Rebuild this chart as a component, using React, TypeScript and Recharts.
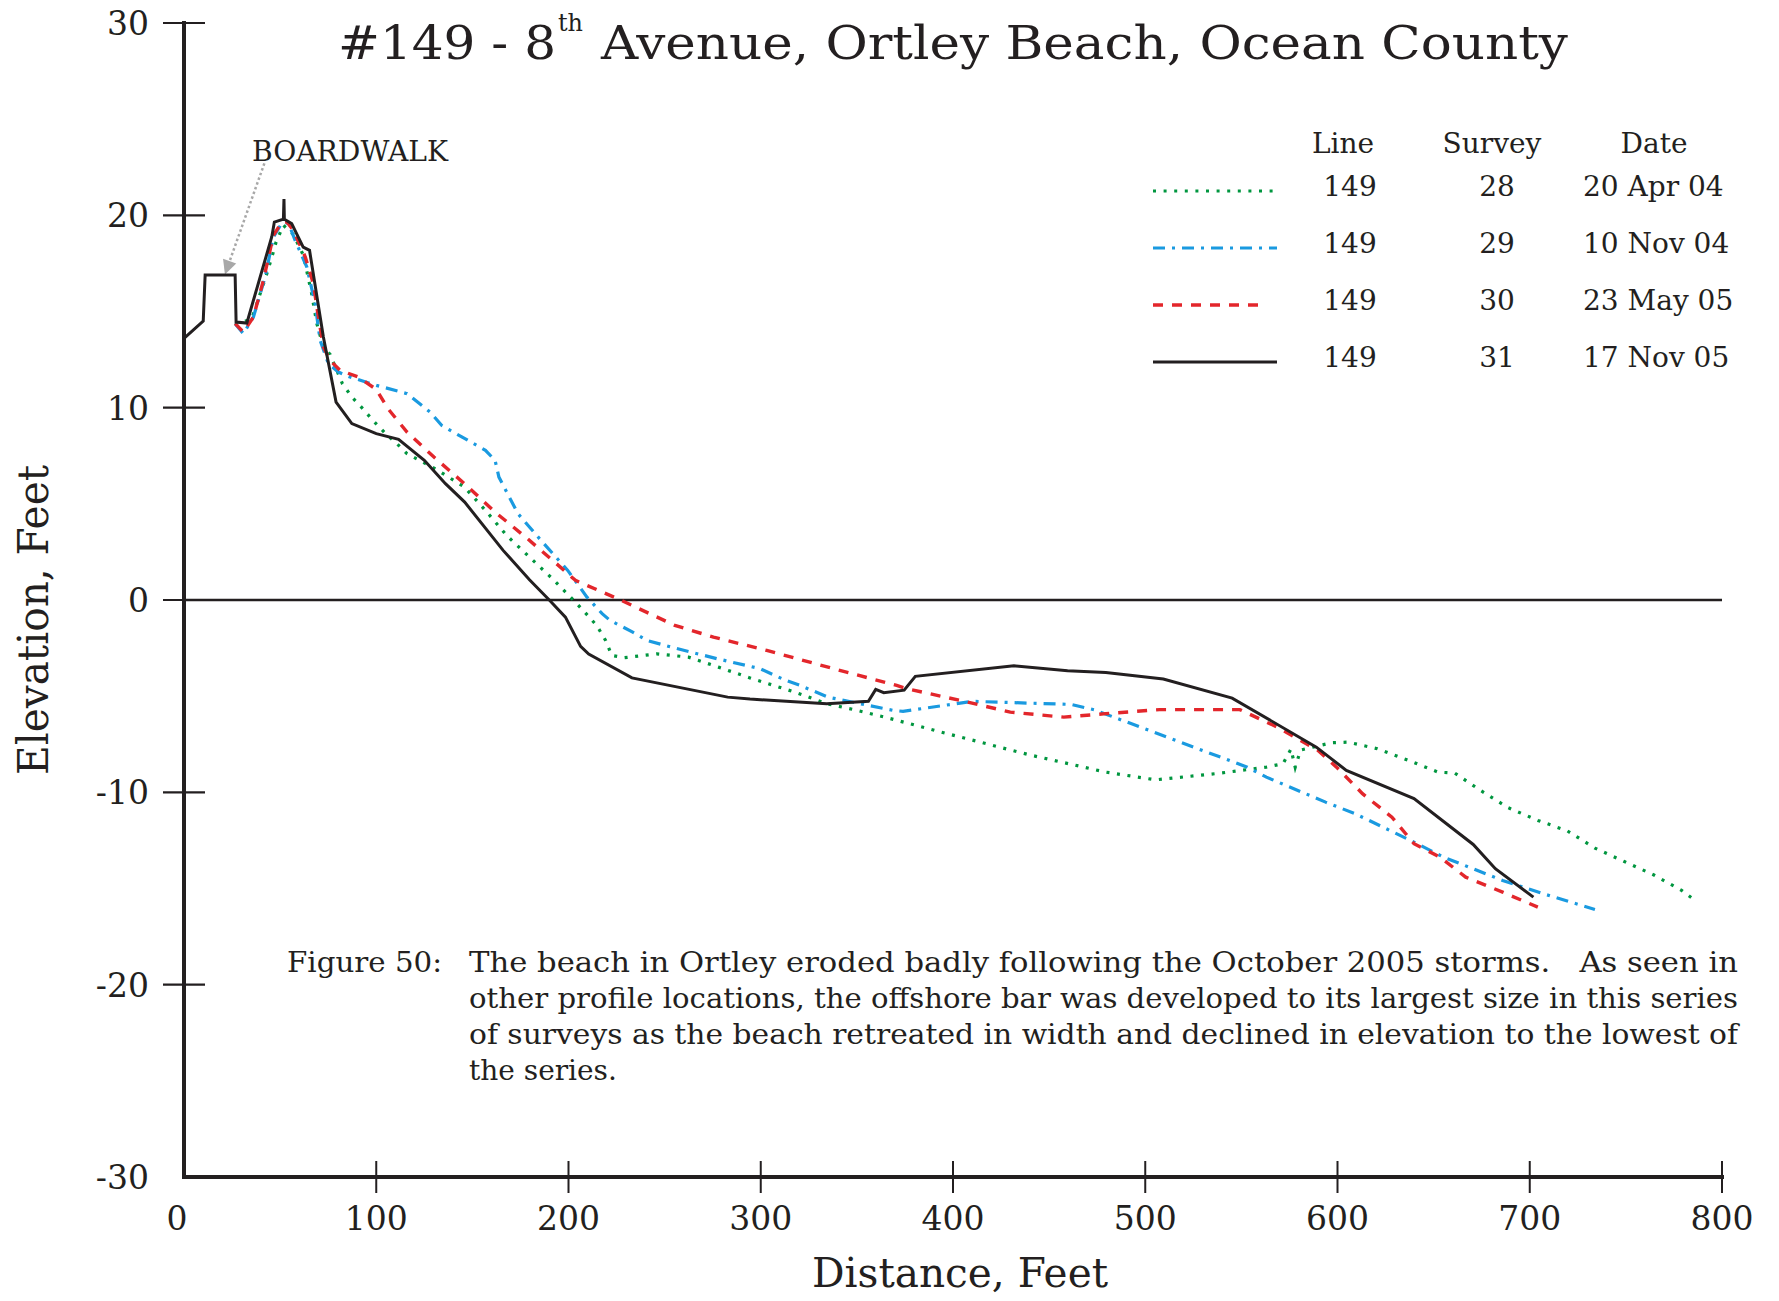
import React from 'react';
import { LineChart, Line, XAxis, YAxis, ReferenceLine } from 'recharts';

const INK = '#231f20';
const SERIF = '"DejaVu Serif", serif';

// axis ticks
const distanceTicks = [0, 100, 200, 300, 400, 500, 600, 700, 800];
const elevationTicks = [-30, -20, -10, 0, 10, 20, 30];

// Survey 28 - 20 Apr 04
const dist28 = [26.6, 35.3, 40.5, 43.1, 45.7, 47.9, 51.7, 56.9, 62.1, 66.4, 69.1, 72.5, 76, 82.4, 87.3, 93, 98.5, 104.4, 110.7, 116, 131.4, 145.9, 156.8, 167.8, 179.7, 191.6, 203.6, 209.5, 214.8, 219.3, 222.5, 229, 245.9, 262.4, 278, 294.4, 318, 334.3, 350.2, 366.4, 394, 439.7, 479.5, 505.4, 539.2, 563, 571.7, 575.8, 578, 580.8, 597, 605.3, 620.7, 637, 652.3, 661, 674.4, 688.8, 704.2, 719.5, 733.9, 749.2, 764.6, 779, 785.7];
const elev28 = [14.3, 14.63, 16.19, 16.97, 17.83, 18.61, 19.48, 19.0, 17.92, 15.93, 14.37, 13.15, 12.77, 11.25, 10.55, 9.95, 9.31, 8.7, 8.13, 7.61, 6.78, 5.87, 4.66, 3.36, 2.23, 1.11, -0.11, -0.75, -1.34, -2.1, -2.88, -3.0, -2.8, -2.97, -3.49, -4.05, -4.8, -5.39, -5.74, -6.14, -6.87, -8.05, -8.95, -9.35, -9.0, -8.69, -8.51, -7.75, -8.7, -7.8, -7.42, -7.39, -7.73, -8.34, -8.95, -9.0, -9.9, -10.8, -11.46, -12.0, -12.9, -13.6, -14.3, -15.1, -15.6];

// Survey 29 - 10 Nov 04
const dist29 = [26.6, 30.9, 36.1, 42.2, 46.5, 50.9, 54.3, 57.8, 63.9, 68.2, 70.8, 75.1, 80.3, 86.4, 100.1, 116, 128, 134, 156.8, 161.8, 163.8, 173.7, 185.7, 199.6, 209.6, 217.5, 221.6, 233.4, 240.7, 253.4, 277.2, 299.6, 313, 320.4, 335, 368.9, 374, 410, 461.6, 473.5, 513.4, 553.1, 563, 593.8, 609.1, 639.8, 655.2, 685.9, 707, 733.9];
const elev29 = [14.37, 13.85, 14.71, 16.79, 18.87, 19.6, 19.6, 18.7, 17.31, 15.41, 13.5, 12.29, 11.85, 11.59, 11.16, 10.73, 9.77, 9.08, 7.78, 7.26, 6.39, 4.49, 3.1, 1.54, 0.15, -0.71, -1.06, -1.67, -2.1, -2.45, -3.05, -3.57, -4.18, -4.44, -5.05, -5.74, -5.79, -5.27, -5.43, -5.71, -7.21, -8.69, -9.21, -10.51, -11.11, -12.59, -13.37, -14.58, -15.27, -16.09];

// Survey 30 - 23 May 05
const dist30 = [26.6, 30.9, 36.1, 41.3, 46.5, 50.9, 53.5, 56.9, 63.1, 67.3, 69.1, 72.5, 76, 81.2, 90.7, 100, 106.1, 116, 130, 145.9, 161.8, 177.7, 193.7, 203.6, 225.5, 255.3, 275.4, 303.1, 337.8, 370.7, 376, 405.9, 429.8, 457.6, 479.5, 507.4, 549.2, 568.7, 589.9, 599.5, 613, 628.3, 639.8, 653.3, 666.7, 685.9, 704.2];
const elev30 = [14.37, 13.93, 14.71, 16.62, 18.96, 19.65, 19.65, 19.22, 17.83, 16.45, 15.23, 13.15, 12.46, 11.94, 11.59, 10.95, 9.95, 8.73, 7.43, 6.05, 4.57, 3.27, 1.89, 1.02, 0.07, -1.32, -1.93, -2.62, -3.57, -4.44, -4.61, -5.27, -5.83, -6.09, -5.91, -5.7, -5.7, -6.61, -7.82, -8.69, -10.07, -11.29, -12.67, -13.37, -14.41, -15.19, -15.97];

// Survey 31 - 17 Nov 05
const dist31 = [0, 10, 11, 26.6, 27.1, 32.7, 45.7, 47, 51.7, 52, 52.2, 56, 62, 65.3, 72.5, 79.1, 87.3, 100, 111.6, 125, 136, 146, 166, 179.7, 190, 198.4, 206.3, 210.5, 233, 282.8, 294.4, 334.3, 356, 359.8, 364, 374.6, 380.4, 431.7, 459.6, 479.5, 509.4, 545.2, 589, 604.6, 639.8, 670.6, 682.1, 701.9];
const elev31 = [13.6, 14.5, 16.9, 16.9, 14.45, 14.4, 18.9, 19.65, 19.8, 20.85, 19.8, 19.57, 18.35, 18.18, 13.67, 10.29, 9.17, 8.65, 8.35, 7.26, 6.05, 5.09, 2.58, 1.05, 0.0, -0.89, -2.41, -2.81, -4.05, -5.05, -5.15, -5.39, -5.27, -4.65, -4.82, -4.69, -3.97, -3.42, -3.68, -3.77, -4.11, -5.1, -7.65, -8.86, -10.33, -12.71, -13.97, -15.45];

// legend table
const lineNames = ['149', '149', '149', '149'];
const surveyNums = ['28', '29', '30', '31'];
const surveyDates = ['20 Apr 04', '10 Nov 04', '23 May 05', '17 Nov 05'];

const captionLines = [
  'The beach in Ortley eroded badly following the October 2005 storms.   As seen in',
  'other profile locations, the offshore bar was developed to its largest size in this series',
  'of surveys as the beach retreated in width and declined in elevation to the lowest of',
  'the series.',
];

// boardwalk arrow, in data units
const arrowFrom = { x: 41.8, y: 22.7 };
const arrowTo = { x: 21.3, y: 16.93 };

const zip = (d: number[], e: number[]) => d.map((x, i) => ({ x, y: e[i] }));

const series = [
  { key: 's28', data: zip(dist28, elev28), color: '#00963f', dash: '3 7.6', width: 3.2 },
  { key: 's29', data: zip(dist29, elev29), color: '#1a9ae0', dash: '12 7 3 7', width: 3.2 },
  { key: 's30', data: zip(dist30, elev30), color: '#e3262b', dash: '10 9', width: 3.4 },
  { key: 's31', data: zip(dist31, elev31), color: INK, dash: undefined, width: 3 },
];

const YTick = (props: any) => {
  const { x, y, payload } = props;
  return (
    <g>
      {payload.value !== -30 && (
        <line x1={x - 21} x2={x + 21} y1={y} y2={y} stroke={INK} strokeWidth={2.2} />
      )}
      <text x={x - 35} y={y} dy="0.36em" textAnchor="end" fontFamily={SERIF} fontSize={33} fill={INK}>
        {payload.value}
      </text>
    </g>
  );
};

const XTick = (props: any) => {
  const { x, y, payload } = props;
  return (
    <g>
      {payload.value !== 0 && (
        <line x1={x} x2={x} y1={y - 16} y2={y + 16} stroke={INK} strokeWidth={2} />
      )}
      <text x={payload.value === 0 ? x - 7 : x} y={y + 53} textAnchor="middle" fontFamily={SERIF} fontSize={33} fill={INK}>
        {payload.value}
      </text>
    </g>
  );
};

const ArrowShape = (p: any) => {
  const { x1, y1, x2, y2 } = p;
  const dx = x2 - x1;
  const dy = y2 - y1;
  const len = Math.hypot(dx, dy) || 1;
  const ux = dx / len;
  const uy = dy / len;
  const bx = x2 - ux * 14;
  const by = y2 - uy * 14;
  return (
    <g>
      <line x1={x1} y1={y1} x2={bx} y2={by} stroke="#a8a8a8" strokeWidth={2.5} strokeDasharray="2.5 2.5" />
      <polygon
        points={`${x2},${y2} ${bx - uy * 7},${by + ux * 7} ${bx + uy * 7},${by - ux * 7}`}
        fill="#a8a8a8"
      />
    </g>
  );
};

const legendRows = [196, 253, 310, 367];

export default function App() {
  return (
    <div style={{ position: 'absolute', left: 0, top: 0, width: 1779, height: 1301, background: '#fff' }}>
      <LineChart width={1779} height={1301} margin={{ top: 23, right: 57, bottom: 64, left: 84 }}>
        <XAxis
          type="number"
          dataKey="x"
          domain={[0, 800]}
          ticks={distanceTicks}
          interval={0}
          height={60}
          tickSize={0}
          tickMargin={0}
          tickLine={false}
          axisLine={{ stroke: INK, strokeWidth: 4, strokeLinecap: 'square' }}
          tick={XTick}
        />
        <YAxis
          type="number"
          domain={[-30, 30]}
          ticks={elevationTicks}
          interval={0}
          width={100}
          tickSize={0}
          tickMargin={0}
          tickLine={false}
          axisLine={{ stroke: INK, strokeWidth: 4, strokeLinecap: 'square' }}
          tick={YTick}
        />
        <ReferenceLine y={0} stroke={INK} strokeWidth={2.5} />
        <ReferenceLine segment={[arrowFrom, arrowTo]} shape={ArrowShape} ifOverflow="visible" />
        {series.map((s) => (
          <Line
            key={s.key}
            data={s.data}
            dataKey="y"
            type="linear"
            stroke={s.color}
            strokeWidth={s.width}
            strokeDasharray={s.dash}
            dot={false}
            activeDot={false}
            isAnimationActive={false}
          />
        ))}
      </LineChart>

      <svg
        width={1779}
        height={1301}
        style={{ position: 'absolute', left: 0, top: 0, pointerEvents: 'none' }}
        fontFamily={SERIF}
        fill={INK}
      >
        {/* title */}
        <text x={338} y={59} fontSize={47} textLength={218} lengthAdjust="spacingAndGlyphs">#149 - 8</text>
        <text x={558} y={31} fontSize={24} textLength={25} lengthAdjust="spacingAndGlyphs">th</text>
        <text x={601} y={59} fontSize={47} textLength={967} lengthAdjust="spacingAndGlyphs">
          Avenue, Ortley Beach, Ocean County
        </text>

        <text x={252} y={161} fontSize={27} textLength={196} lengthAdjust="spacingAndGlyphs">BOARDWALK</text>

        {/* legend table */}
        <text x={1343} y={153} fontSize={28} textAnchor="middle">Line</text>
        <text x={1492} y={153} fontSize={28} textAnchor="middle">Survey</text>
        <text x={1654} y={153} fontSize={28} textAnchor="middle">Date</text>
        {series.map((s, i) => (
          <g key={s.key}>
            <line
              x1={1153}
              x2={s.key === 's30' ? 1265 : 1277}
              y1={legendRows[i] - 5}
              y2={legendRows[i] - 5}
              stroke={s.color}
              strokeWidth={s.width}
              strokeDasharray={s.dash}
            />
            <text x={1350} y={legendRows[i]} fontSize={28} textAnchor="middle">{lineNames[i]}</text>
            <text x={1497} y={legendRows[i]} fontSize={28} textAnchor="middle">{surveyNums[i]}</text>
            <text x={1583} y={legendRows[i]} fontSize={28}>{surveyDates[i]}</text>
          </g>
        ))}

        {/* caption */}
        <text x={287} y={972} fontSize={28} textLength={155} lengthAdjust="spacingAndGlyphs">Figure 50:</text>
        {captionLines.map((t, i) => (
          <text
            key={i}
            x={469}
            y={972 + i * 36}
            fontSize={28}
            xmlSpace="preserve"
            style={{ whiteSpace: 'pre' }}
            {...(i < captionLines.length - 1 ? { textLength: 1269, lengthAdjust: 'spacingAndGlyphs' } : {})}
          >
            {t}
          </text>
        ))}

        {/* axis titles */}
        <text x={960} y={1287} fontSize={41} textAnchor="middle" textLength={296} lengthAdjust="spacingAndGlyphs">
          Distance, Feet
        </text>
        <text
          x={0}
          y={0}
          fontSize={42}
          textAnchor="middle"
          textLength={310}
          lengthAdjust="spacingAndGlyphs"
          transform="translate(48 620) rotate(-90)"
        >
          Elevation, Feet
        </text>
      </svg>
    </div>
  );
}
